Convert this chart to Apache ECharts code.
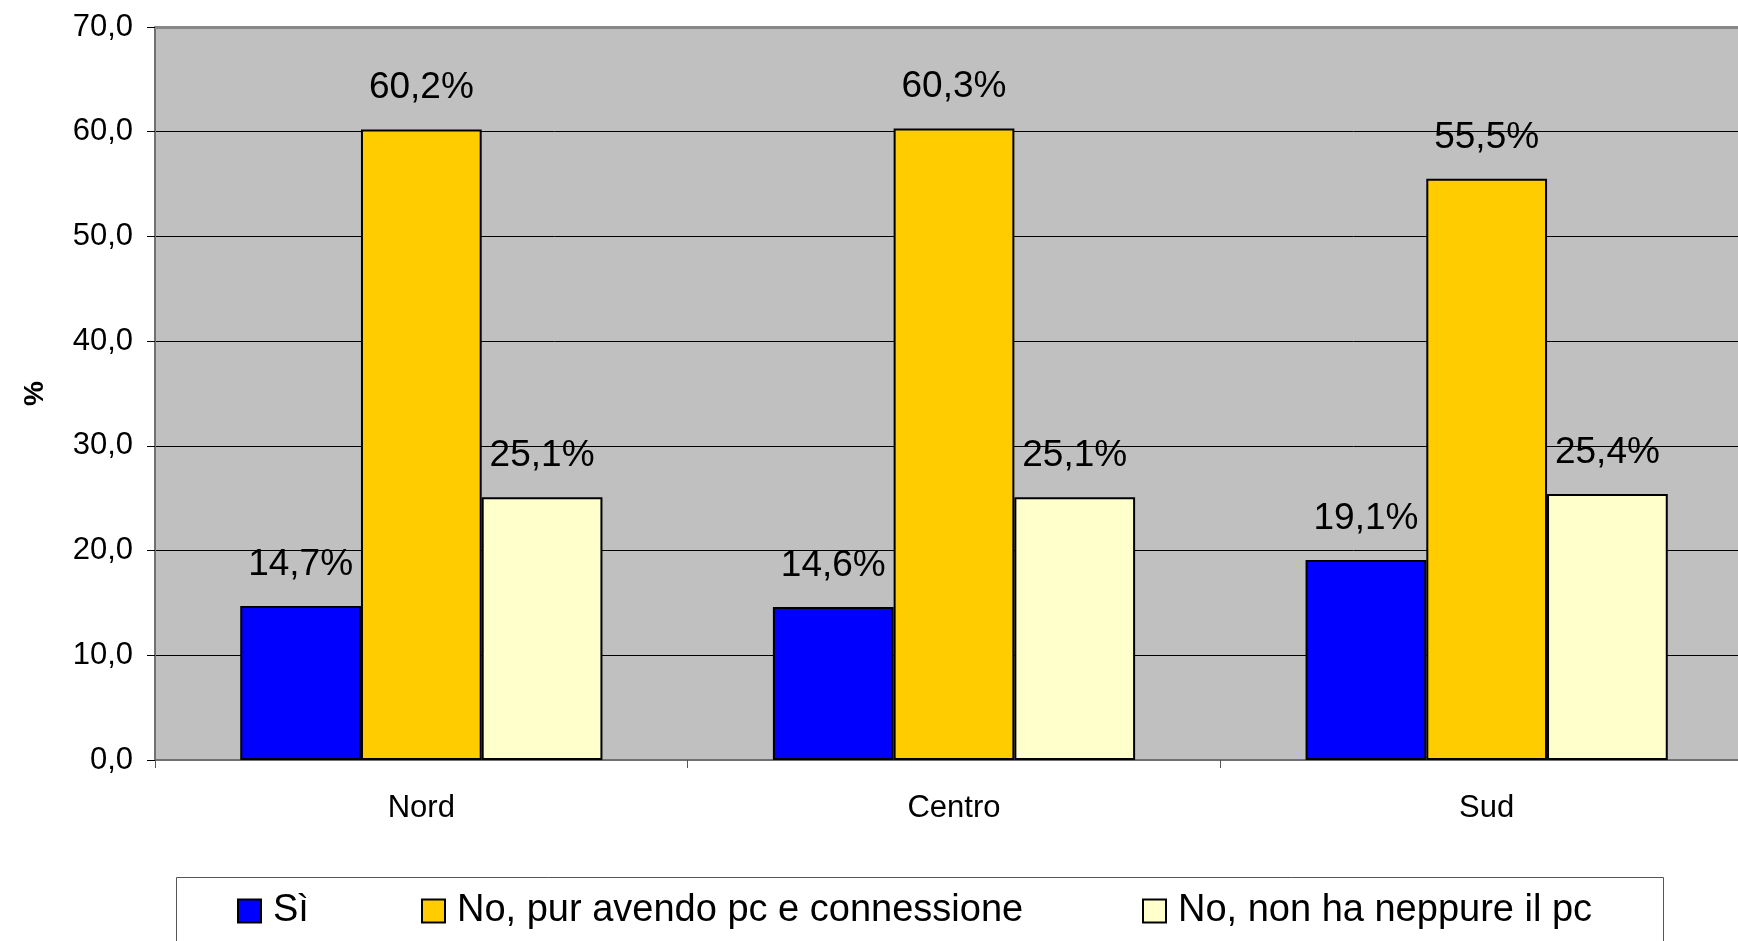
<!DOCTYPE html>
<html>
<head>
<meta charset="utf-8">
<script src="https://cdn.jsdelivr.net/npm/echarts@6/dist/echarts.min.js"></script>
<style>html,body{margin:0;padding:0;background:#fff;overflow:hidden;width:1738px;height:941px;}#c{width:1753px;height:941px;}</style>
</head>
<body>
<div id="c"></div>
<script>
const categories = ['Nord', 'Centro', 'Sud'];
const seriesNames = ['Sì', 'No, pur avendo pc e connessione', 'No, non ha neppure il pc'];
const siValues = [14.7, 14.6, 19.1];
const noPcConnValues = [60.2, 60.3, 55.5];
const noPcValues = [25.1, 25.1, 25.4];
const yTicks = [0, 10, 20, 30, 40, 50, 60, 70];

const FONT = '"Liberation Sans", Arial, sans-serif';
const colors = ['#0000FF', '#FFCC00', '#FFFFCC'];
const fmt = v => v.toFixed(1).replace('.', ',');

const chart = echarts.init(document.getElementById('c'), null, {renderer: 'canvas', width: 1753, height: 941});

function mkSeries(name, data, color, extra) {
  return Object.assign({
    name: name,
    type: 'bar',
    data: data,
    barGap: '0%',
    barCategoryGap: '32%',
    itemStyle: {color: color, borderColor: '#000', borderWidth: 2},
    label: {
      show: true, position: 'top', distance: 23,
      fontFamily: FONT, fontSize: 37, color: '#000',
      formatter: p => fmt(p.value) + '%'
    },
    emphasis: {disabled: true},
    animation: false
  }, extra || {});
}

const legendBase = {
  top: 892, padding: 0,
  itemWidth: 23, itemHeight: 23,
  icon: 'rect',
  textStyle: {fontFamily: FONT, fontSize: 38, color: '#000', padding: [0, 0, 0, 7]}
};

chart.setOption({
  animation: false,
  backgroundColor: '#fff',
  textStyle: {fontFamily: FONT},
  grid: {
    left: 155, top: 27, right: 0, bottom: 181,
    show: true, backgroundColor: '#C0C0C0', borderWidth: 0
  },
  legend: [
    Object.assign({left: 237, data: [seriesNames[0]]}, legendBase),
    Object.assign({left: 421, data: [seriesNames[1]]}, legendBase),
    Object.assign({left: 1142, data: [seriesNames[2]]}, legendBase)
  ],
  graphic: [
    {type: 'rect', shape: {x: 176.5, y: 877.5, width: 1487, height: 100},
     style: {fill: 'none', stroke: '#555', lineWidth: 1}, z: 0}
  ],
  xAxis: {
    type: 'category',
    data: categories,
    axisLine: {lineStyle: {color: '#707070', width: 2}},
    axisTick: {show: true, length: 8, lineStyle: {color: '#555', width: 1}},
    axisLabel: {fontFamily: FONT, fontSize: 31, color: '#000', margin: 33}
  },
  yAxis: {
    type: 'value',
    min: yTicks[0], max: yTicks[yTicks.length - 1], interval: 10,
    name: '%', nameLocation: 'middle', nameGap: 106, nameRotate: 90,
    nameTextStyle: {fontFamily: FONT, fontSize: 28, fontWeight: 'bold', color: '#000'},
    axisLine: {show: true, lineStyle: {color: '#707070', width: 2}},
    axisTick: {show: true, length: 8, lineStyle: {color: '#000', width: 1}},
    axisLabel: {fontFamily: FONT, fontSize: 31, color: '#000', margin: 22, formatter: v => fmt(v)},
    splitLine: {show: true, lineStyle: {color: ['#000','#000','#000','#000','#000','#000','#000','#888'], width: 1}}
  },
  series: [
    mkSeries(seriesNames[0], siValues, colors[0], {
      markLine: {
        silent: true, symbol: 'none', label: {show: false}, animation: false,
        lineStyle: {color: '#888', width: 3, type: 'solid'},
        data: [{yAxis: yTicks[yTicks.length - 1]}]
      }
    }),
    mkSeries(seriesNames[1], noPcConnValues, colors[1]),
    mkSeries(seriesNames[2], noPcValues, colors[2])
  ]
});
</script>
</body>
</html>
